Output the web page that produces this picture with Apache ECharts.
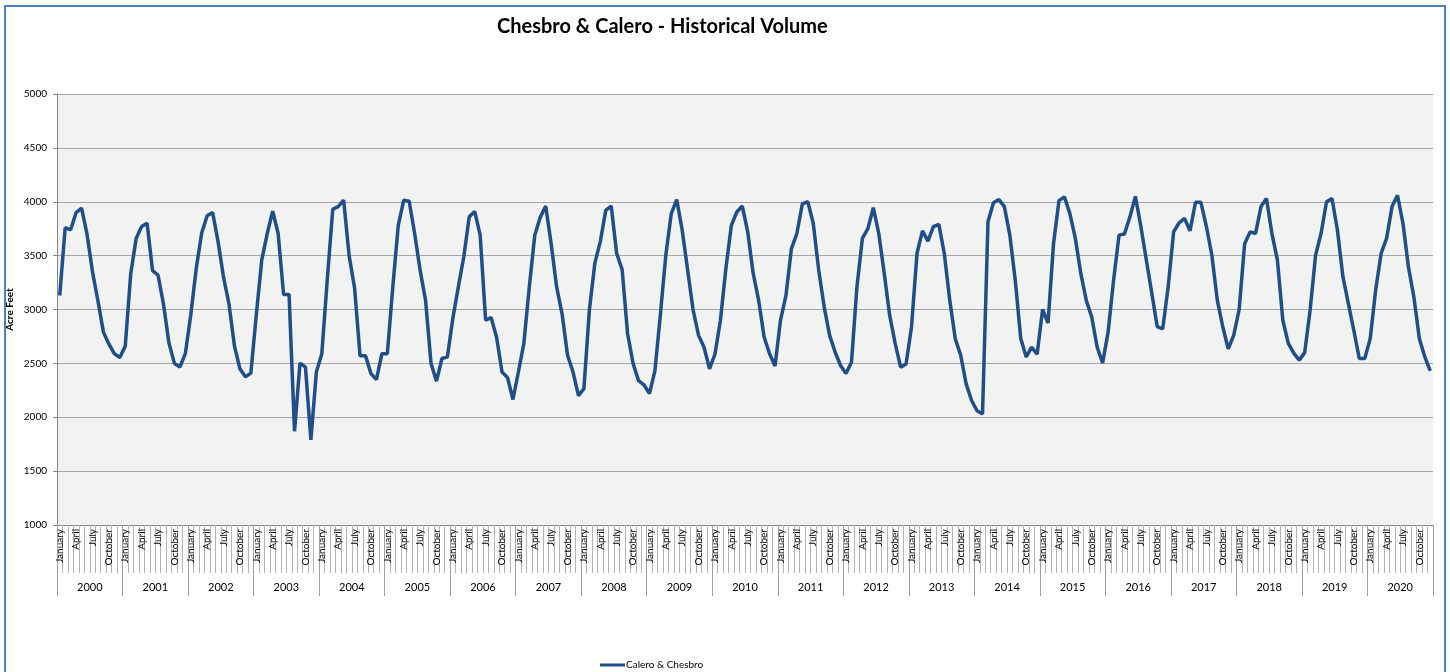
<!DOCTYPE html>
<html>
<head>
<meta charset="utf-8">
<title>Chesbro &amp; Calero - Historical Volume</title>
<script src="https://cdn.jsdelivr.net/npm/echarts@6/dist/echarts.min.js"></script>
<style>
  html, body { margin: 0; padding: 0; background: #fff; }
  #wrap { position: relative; width: 1450px; height: 672px; overflow: hidden; }
  #chart { width: 1450px; height: 672px; }
  /* blue chart frame, bottom edge runs off the picture */
  #frame {
    position: absolute; left: 4px; top: 5px; width: 1438px; height: 720px;
    border: 2px solid #4f81bd; pointer-events: none;
  }
</style>
</head>
<body>
<div id="wrap">
  <div id="chart"></div>
  <div id="frame"></div>
</div>
<script>
const years = ['2000', '2001', '2002', '2003', '2004', '2005', '2006', '2007', '2008', '2009', '2010',
  '2011', '2012', '2013', '2014', '2015', '2016', '2017', '2018', '2019', '2020']
const monthNames = ['January', 'February', 'March', 'April', 'May', 'June',
  'July', 'August', 'September', 'October', 'November', 'December']
const yTicks = { min: 1000, max: 5000, step: 500 }

// monthly volume, acre feet (one line per year)
const volume = [
  3130, 3760, 3740, 3900, 3940, 3700, 3350, 3080, 2790, 2680, 2590, 2555, // 2000
  2660, 3330, 3660, 3770, 3800, 3360, 3320, 3050, 2690, 2500, 2465, 2590, // 2001
  2950, 3380, 3710, 3870, 3900, 3630, 3300, 3050, 2660, 2450, 2375, 2410, // 2002
  2950, 3460, 3705, 3913, 3705, 3140, 3140, 1870, 2503, 2465, 1790, 2420, // 2003
  2590, 3280, 3930, 3955, 4015, 3500, 3200, 2570, 2570, 2405, 2350, 2590, // 2004
  2590, 3210, 3780, 4015, 4005, 3705, 3365, 3085, 2500, 2335, 2545, 2560, // 2005
  2920, 3210, 3490, 3860, 3910, 3690, 2900, 2925, 2745, 2420, 2370, 2165, // 2006
  2420, 2685, 3210, 3690, 3855, 3960, 3610, 3210, 2960, 2575, 2420, 2200, // 2007
  2265, 2995, 3430, 3630, 3920, 3960, 3520, 3370, 2775, 2500, 2340, 2300, // 2008
  2220, 2430, 2950, 3505, 3890, 4020, 3735, 3365, 2995, 2760, 2650, 2450, // 2009
  2585, 2900, 3380, 3780, 3905, 3960, 3720, 3335, 3085, 2745, 2590, 2475, // 2010
  2900, 3130, 3565, 3705, 3980, 4000, 3800, 3365, 3025, 2760, 2605, 2480, // 2011
  2405, 2510, 3210, 3660, 3750, 3945, 3705, 3335, 2945, 2685, 2465, 2495, // 2012
  2840, 3520, 3730, 3635, 3770, 3790, 3520, 3085, 2730, 2575, 2310, 2155, // 2013
  2060, 2030, 3815, 3990, 4020, 3955, 3690, 3270, 2730, 2560, 2650, 2585, // 2014
  3000, 2875, 3610, 4010, 4045, 3890, 3660, 3335, 3085, 2930, 2650, 2505, // 2015
  2790, 3270, 3690, 3700, 3860, 4050, 3770, 3460, 3150, 2840, 2820, 3210, // 2016
  3720, 3805, 3845, 3730, 3995, 3995, 3770, 3505, 3085, 2840, 2635, 2760, // 2017
  3000, 3610, 3720, 3705, 3955, 4030, 3705, 3460, 2900, 2685, 2595, 2530, // 2018
  2600, 2995, 3505, 3705, 4000, 4030, 3735, 3305, 3055, 2805, 2545, 2545, // 2019
  2730, 3180, 3520, 3660, 3955, 4060, 3800, 3395, 3115, 2730, 2560, 2430  // 2020
]

// unique keys for the month axis, shown as month names
const monthKeys = years.flatMap(y => monthNames.map(m => y + ' ' + m))

const font = 'Lato, "Open Sans", sans-serif'

const chart = echarts.init(document.getElementById('chart'))

chart.setOption({
  animation: false,
  textStyle: { fontFamily: font },
  title: {
    text: 'Chesbro & Calero - Historical Volume',
    left: 492,
    top: 12,
    textStyle: { fontSize: 20, fontWeight: 'bold', color: '#000', fontFamily: font }
  },
  legend: {
    data: ['Calero & Chesbro'],
    icon: 'rect',
    left: 595,
    top: 655,
    itemWidth: 25,
    itemHeight: 3,
    itemGap: 10,
    textStyle: { fontSize: 10, color: '#000', fontFamily: font, padding: [0, 0, 0, -4] }
  },
  grid: {
    left: 57,
    right: 17,
    top: 94,
    bottom: 147,
    show: true,
    backgroundColor: '#f2f2f2',
    borderWidth: 0,
    containLabel: false,
    outerBoundsMode: 'none'
  },
  xAxis: [
    {
      type: 'category',
      data: monthKeys,
      position: 'bottom',
      axisLine: { show: true, lineStyle: { color: '#868686', width: 1 } },
      axisTick: { show: true, interval: 0, length: 48, lineStyle: { color: '#b4b4b4', width: 1 } },
      axisLabel: {
        interval: (i) => i % 3 === 0,
        rotate: 90,
        margin: 4,
        fontSize: 10,
        color: '#000',
        fontFamily: font,
        formatter: (v, i) => monthNames[i % 12]
      },
      splitLine: { show: false }
    },
    {
      type: 'category',
      data: years,
      position: 'bottom',
      axisLine: { show: false },
      axisTick: { show: true, interval: 0, length: 71, lineStyle: { color: '#a0a0a0', width: 1 } },
      axisLabel: { interval: 0, margin: 57, fontSize: 11, color: '#000', fontFamily: font },
      splitLine: { show: false }
    }
  ],
  yAxis: {
    type: 'value',
    min: yTicks.min,
    max: yTicks.max,
    interval: yTicks.step,
    name: 'Acre Feet',
    nameLocation: 'middle',
    nameGap: 42,
    nameMoveOverlap: false,
    nameTextStyle: { fontSize: 10, fontWeight: 'bold', color: '#000', fontFamily: font },
    axisLine: { show: true, lineStyle: { color: '#868686' } },
    axisTick: { show: true, length: 4, lineStyle: { color: '#868686' } },
    axisLabel: { fontSize: 10, color: '#000', margin: 10, fontFamily: font, formatter: (v) => String(v) },
    splitLine: { show: true, lineStyle: { color: '#a6a6a6', width: 1 } }
  },
  series: [
    {
      name: 'Calero & Chesbro',
      type: 'line',
      xAxisIndex: 0,
      data: volume,
      symbol: 'none',
      showSymbol: false,
      lineStyle: { color: '#1f4e89', width: 3.5 },
      itemStyle: { color: '#1f4e89' }
    }
  ]
})
</script>
</body>
</html>
